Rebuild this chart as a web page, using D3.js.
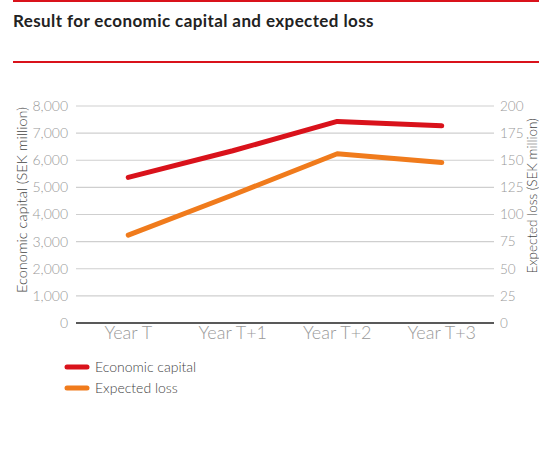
<!DOCTYPE html>
<html>
<head>
<meta charset="utf-8">
<script src="https://cdn.jsdelivr.net/npm/d3@7"></script>
<style>
  body { margin: 0; background: #fff; }
  svg { display: block; }
  .tick text { font-family: Lato, "Open Sans", sans-serif; font-weight: 300; fill: #999; }
</style>
</head>
<body>
<div id="chart"></div>
<script>
// chart data
var years = ["Year T", "Year T+1", "Year T+2", "Year T+3"];
var economicCapital = [5370, 6350, 7430, 7270];
var expectedLoss = [81, 118, 156, 148];
var leftTicks = [0, 1000, 2000, 3000, 4000, 5000, 6000, 7000, 8000];
var rightTicks = [0, 25, 50, 75, 100, 125, 150, 175, 200];

var W = 539, H = 458;
var margin = {top: 106, right: 45, bottom: 135, left: 76};
var width = W - margin.left - margin.right,
    height = H - margin.top - margin.bottom;

var red = "#d9121b", orange = "#f07b1c";

var svg = d3.select("#chart").append("svg")
    .attr("width", W)
    .attr("height", H);

// header rules and title
svg.append("rect").attr("x", 13).attr("y", 0).attr("width", W - 13).attr("height", 2).attr("fill", red);
svg.append("rect").attr("x", 13).attr("y", 61).attr("width", W - 13).attr("height", 2).attr("fill", red);
svg.append("text")
    .attr("x", 13).attr("y", 27)
    .attr("font-family", "Lato, sans-serif")
    .attr("font-weight", 700)
    .attr("font-size", 17)
    .attr("letter-spacing", 0.4)
    .attr("fill", "#222")
    .text("Result for economic capital and expected loss");

var x = d3.scaleBand().domain(years).range([0, width]);
var yL = d3.scaleLinear().domain([0, 8000]).range([height, 0]);
var yR = d3.scaleLinear().domain([0, 200]).range([height, 0]);

var g = svg.append("g").attr("transform", "translate(" + margin.left + "," + margin.top + ")");

// gridlines
g.append("g")
    .selectAll("line")
    .data(leftTicks.slice(1))
    .enter().append("line")
    .attr("x1", 0).attr("x2", width)
    .attr("y1", function(d) { return yL(d); })
    .attr("y2", function(d) { return yL(d); })
    .attr("stroke", "#cfcfcf")
    .attr("stroke-width", 1.2);

g.append("line")
    .attr("x1", 0).attr("x2", width)
    .attr("y1", height).attr("y2", height)
    .attr("stroke", "#222")
    .attr("stroke-width", 1.5);

var yAxisL = d3.axisLeft(yL).tickValues(leftTicks).tickSize(0).tickPadding(8).tickFormat(d3.format(","));
var yAxisR = d3.axisRight(yR).tickValues(rightTicks).tickSize(0).tickPadding(6);
var xAxis = d3.axisBottom(x).tickSize(0).tickPadding(3);

g.append("g").call(yAxisL).call(function(s) { s.select(".domain").remove(); })
    .selectAll("text").attr("font-size", 14);
g.append("g").attr("transform", "translate(" + width + ",0)").call(yAxisR)
    .call(function(s) { s.select(".domain").remove(); })
    .selectAll("text").attr("font-size", 13.5);
g.append("g").attr("transform", "translate(0," + height + ")").call(xAxis)
    .call(function(s) { s.select(".domain").remove(); })
    .selectAll("text").attr("font-size", 18).attr("fill", "#999");

// axis titles
svg.append("text")
    .attr("transform", "translate(27," + (margin.top + 94) + ") rotate(-90)")
    .attr("text-anchor", "middle")
    .attr("font-family", "Lato, sans-serif").attr("font-weight", 300)
    .attr("font-size", 14.5).attr("fill", "#444")
    .text("Economic capital (SEK million)");
svg.append("text")
    .attr("transform", "translate(536.5," + (margin.top + 90) + ") rotate(-90)")
    .attr("text-anchor", "middle")
    .attr("font-family", "Lato, sans-serif").attr("font-weight", 300)
    .attr("font-size", 13.5).attr("fill", "#444")
    .text("Expected loss (SEK million)");

// lines
var cx = function(d, i) { return x(years[i]) + x.bandwidth() / 2; };
var lineL = d3.line().x(cx).y(function(d) { return yL(d); });
var lineR = d3.line().x(cx).y(function(d) { return yR(d); });

g.append("path").datum(expectedLoss)
    .attr("d", lineR).attr("fill", "none")
    .attr("stroke", orange).attr("stroke-width", 5)
    .attr("stroke-linecap", "round").attr("stroke-linejoin", "round");
g.append("path").datum(economicCapital)
    .attr("d", lineL).attr("fill", "none")
    .attr("stroke", red).attr("stroke-width", 5)
    .attr("stroke-linecap", "round").attr("stroke-linejoin", "round");

// legend
var legend = svg.append("g").attr("transform", "translate(65,367)");
var items = [{name: "Economic capital", color: red}, {name: "Expected loss", color: orange}];
var li = legend.selectAll("g").data(items).enter().append("g")
    .attr("transform", function(d, i) { return "translate(0," + (i * 21) + ")"; });
li.append("line").attr("x1", 2).attr("x2", 22).attr("y1", 0).attr("y2", 0)
    .attr("stroke", function(d) { return d.color; })
    .attr("stroke-width", 5).attr("stroke-linecap", "round");
li.append("text").attr("x", 30).attr("y", 0).attr("dy", "0.35em")
    .attr("font-family", "Lato, sans-serif").attr("font-weight", 300)
    .attr("font-size", 14).attr("fill", "#444")
    .text(function(d) { return d.name; });
</script>
</body>
</html>
